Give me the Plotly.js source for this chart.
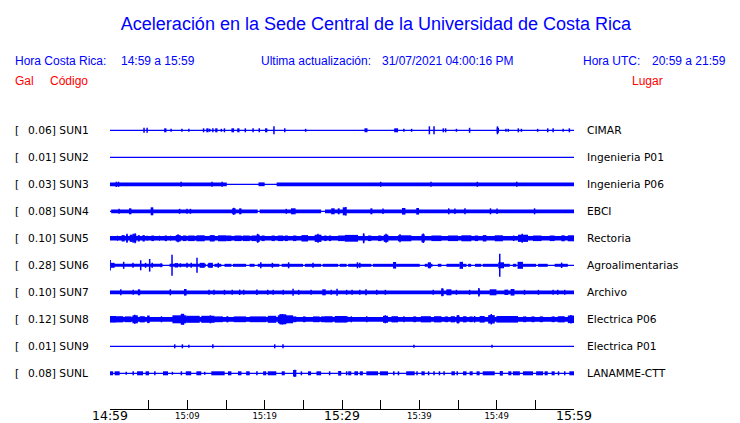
<!DOCTYPE html>
<html><head><meta charset="utf-8">
<script src="https://cdn.plot.ly/plotly-3.0.1.min.js"></script>
<style>html,body{margin:0;padding:0;background:#fff}</style>
</head><body><div id="chart" style="width:740px;height:423px"></div>
<script>
// ---- DATA ----
const codes = ['SUN1','SUN2','SUN3','SUN4','SUN5','SUN6','SUN7','SUN8','SUN9','SUNL'];
const places = ['CIMAR','Ingenieria P01','Ingenieria P06','EBCI','Rectoria','Agroalimentarias','Archivo','Electrica P06','Electrica P01','LANAMME-CTT'];
const maxGal = ['0.06','0.01','0.03','0.08','0.10','0.28','0.10','0.12','0.01','0.08'];

// time axis: minutes after 14:59 (hora Costa Rica)
const tickMinutes = [0,5,10,15,20,25,30,35,40,45,50,55,60];
const tickMajorText = ['14:59','','','','','','15:29','','','','','','15:59'];
const tickMinorMinutes = [10,20,40,50];
const tickMinorText = ['15:09','15:19','15:39','15:49'];

// envelope blocks per station: [start min, end min, half amplitude]
const blocksSUN1 = [[7.0,7.3,2],[12.45,12.75,2],[13.6,13.9,2],[15.7,16.05,2],[16.45,16.75,2],[20.05,20.35,2],[36.75,37.25,2],[50.0,50.3,2.5]];
const blocksSUN2 = [];
const blocksSUN3 = [[0,15.1,1.9],[19.2,20.0,1.9],[21.55,60,1.9]];
const blocksSUN4 = [[0.15,19.1,1.85],[19.35,27.3,1.85],[27.8,60,1.85],[2.46,2.77,3],[5.26,5.6,4],[15.8,16.25,3],[16.7,17.0,3],[23.4,24.0,3],[28.6,29.05,3],[29.45,29.7,3],[30.1,30.55,4],[33.67,33.93,3],[37.76,38.2,3.3],[39.6,39.96,3.3]];
const blocksSUN5 = [[0,60,2.2],[0.9,1.0,2.8],[1.5,1.9,3.2],[2.1,2.3,3.6],[2.55,2.95,3.6],[3.1,3.4,4],[3.6,3.85,3.2],[4.2,4.5,3.2],[4.75,4.85,2.8],[5.35,5.7,2.8],[6.35,6.45,2.8],[7.07,7.37,2.8],[7.8,7.9,2.8],[8.5,9.14,3.2],[9.44,9.88,2.8],[10.1,10.95,2.8],[11.17,12.25,3],[12.9,13.54,3.2],[13.97,15.05,3],[15.05,15.7,2.8],[16.1,17.0,2.8],[17.2,18.07,2.8],[18.3,18.9,2.8],[18.93,19.36,3.6],[19.6,20.0,2.8],[20.9,21.3,2.8],[21.7,22.4,2.8],[22.6,23.0,2.8],[23.67,24.1,2.8],[24.75,25.6,3.2],[26.47,27.34,3.6],[27.7,28.0,2.8],[28.3,28.6,2.8],[29.5,30.35,2.8],[30.35,32.07,3.4],[32.7,32.9,4],[33.36,33.8,2.8],[34.66,35.1,2.8],[35.4,36.0,3.6],[37.24,38.97,3],[40.27,40.7,3.9],[41.56,42.86,2.8],[43.7,45.0,2.8],[45.44,46.73,3],[47.16,47.6,2.8],[48.2,48.67,3.2],[49.75,50.8,3],[52.1,52.3,2.8],[52.76,54.05,3.6],[54.7,55.8,2.8],[56.86,57.5,2.8],[58.37,58.8,3],[59.2,60,3]];
const blocksSUN6 = [[0.1,6.8,1.5],[7.7,12.4,1.5],[12.6,13.3,1.5],[13.5,14.4,1.5],[14.8,15.7,1.5],[15.9,17.6,1.5],[18.05,18.7,1.5],[19.1,21.9,1.5],[22.2,24.96,1.5],[25.2,27.3,1.5],[27.5,29.5,1.5],[29.7,30.6,1.5],[30.8,33.8,1.5],[34.0,36.6,1.5],[37.0,40.05,1.5],[40.7,41.1,1.5],[41.5,41.7,1.5],[42.4,42.85,1.5],[43.5,45.2,1.5],[45.65,46.1,1.5],[46.3,46.7,1.5],[47.2,48.0,1.5],[48.2,50.2,1.5],[50.95,51.7,1.5],[52.1,52.55,1.5],[53.4,55.1,1.5],[55.35,56.6,1.5],[57.5,59.2,1.5],[0.1,0.6,2.5],[4.5,4.7,2.5],[5.35,5.56,2.5],[8.37,8.8,2.2],[11.6,12.25,2.5],[12.7,13.3,2.5],[36.6,37.0,3.3],[41.1,41.5,3],[45.2,45.65,3.5],[50.2,50.95,3],[52.7,53.4,3.5]];
const blocksSUN7 = [[0,60,1.85],[3.6,3.9,3],[7.7,7.9,3],[9.57,9.9,3.3],[18.9,19.1,2.7],[27.45,27.9,3],[33.0,33.2,3],[42.85,43.15,3.7],[43.5,44.15,3],[47.6,47.85,3],[49.1,49.97,3],[51.0,51.5,2.7],[51.8,52.3,3.3]];
const blocksSUN8 = [[0,60,2.4],[0,0.83,3.3],[0.83,1.7,3.1],[1.9,2.77,2.9],[2.9,3.6,4],[3.84,4.5,3.1],[4.8,5.13,3.8],[8.07,9.88,4],[9.15,9.57,5.2],[9.88,11.6,3.5],[11.8,13.54,3.5],[13.54,14.6,2.9],[15.05,15.3,3.1],[16.0,17.6,2.9],[18.07,20.2,2.9],[20.4,21.5,3.5],[21.7,23.67,4],[21.95,22.8,5],[23.67,24.1,2.9],[24.95,25.3,2.9],[26.25,27.1,2.9],[27.3,27.8,2.9],[27.76,28.8,3.1],[29.05,30.6,3.3],[30.35,30.8,2.9],[35.3,35.95,3.5],[36.4,37.24,3.1],[39.2,39.6,2.9],[40.2,41.5,3.1],[41.9,42.86,3.1],[43.3,43.7,2.9],[44.06,44.6,3.1],[44.8,45.2,3.8],[45.65,46.1,3.1],[46.5,46.9,2.9],[47.8,48.45,3.3],[48.9,49.75,4.2],[49.97,52.76,3.3],[53.4,53.85,2.9],[54.5,54.9,2.9],[55.57,56.0,2.9],[57.1,57.5,2.9],[57.9,58.8,3.1],[59.2,60,3.8]];
const blocksSUN9 = [];
const blocksSUNL = [[0,0.4,2],[0.6,1.25,2],[3.5,4.27,2],[4.6,5.05,2],[6.85,7.5,2],[9.8,10.5,2],[11.17,11.8,2],[13.1,14.83,2],[15.26,15.7,2],[16.55,17.0,2],[17.6,18.07,2],[18.9,19.1,2],[19.8,20.2,2],[20.4,21.5,2],[22.2,22.6,2],[23.67,24.1,3.3],[25.6,26.0,2],[26.7,27.3,2],[29.5,29.9,2.3],[30.8,31.2,2],[31.6,32.07,2],[32.3,32.7,2],[33.15,34.66,2],[34.9,35.95,2],[36.6,36.8,2],[38.3,39.4,2],[40.27,40.7,2],[44.15,44.6,2],[45.65,46.1,2],[46.5,46.9,2],[47.4,47.8,2],[48.2,49.75,2],[50.4,50.8,2.3],[51.5,51.9,2],[52.1,53.0,2],[53.4,54.7,2],[55.1,56.0,2],[56.2,56.6,2],[57.1,57.5,2],[59.4,60,2]];

// narrow spikes per station: [minute, half amplitude]
const spikesSUN1 = [[4.4,2.5],[4.8,2.5],[7.9,1.5],[9.3,1.5],[10.2,1.5],[12.1,2],[12.9,1.5],[13.3,2],[14.4,1.5],[14.8,2],[17.5,2],[18.5,2],[19.3,2],[21.2,4],[22.6,2],[25.3,1.5],[33.0,2],[33.2,2],[38.0,1.5],[39.0,1.5],[41.3,4],[41.9,4],[43.1,2],[43.4,2],[44.8,1.5],[46.5,2.5],[50.1,4],[51.2,1.5],[51.5,1.5],[52.8,2],[53.2,1.5],[55.3,1.5],[56.6,2],[57.3,2],[58.6,1.5],[59.4,2]];
const spikesSUN2 = [];
const spikesSUN3 = [[0.8,2.6],[1.1,2.6],[9.2,2.5],[13.2,2.5],[14.5,2.5],[35.0,2.5],[41.5,2.5],[47.5,2.5],[52.6,2.5]];
const spikesSUN4 = [[1.17,2.5],[9.0,2.5],[9.96,2.5],[10.4,2.5],[16.0,3.5],[22.8,2.5],[30.5,4.3],[35.3,2.7],[43.8,3],[44.6,2.7],[45.9,3],[49.2,3],[50.05,2.7],[54.9,3]];
const spikesSUN5 = [[2.2,4.5],[3.0,4.5],[3.25,5],[8.8,4],[19.1,4.5],[26.9,4.5],[32.8,5],[35.7,4.5],[37.5,4],[40.5,4.8],[53.3,4.5]];
const spikesSUN6 = [[0.02,5.3],[1.77,3.5],[2.97,2.5],[3.97,5],[5.13,6.3],[6.6,2],[8.02,10.5],[9.1,2],[9.96,2.5],[10.5,2.5],[11.25,7.5],[14.0,2.5],[19.5,3],[21.0,2.5],[23.1,3],[26.25,2.5],[32.0,3],[32.3,2.5],[50.4,11.5],[58.4,2.7]];
const spikesSUN7 = [[1.4,3],[3.0,2.5],[12.8,2.5],[13.45,2.5],[14.8,2.5],[15.8,2.5],[16.77,2.7],[17.3,2.5],[20.4,2.5],[21.1,2.5],[22.4,2.5],[23.67,3.5],[24.4,2.5],[26.0,2.5],[28.6,2.5],[29.36,3.5],[30.6,2.5],[31.3,2.5],[32.3,2.5],[34.5,2.5],[35.6,2.5],[41.8,2.5],[42.95,4],[44.8,2.5],[46.5,2.5],[47.7,4.3],[53.6,2.5],[55.4,2.5],[57.3,2.5],[57.9,2.5],[58.8,2.5]];
const spikesSUN8 = [[3.2,4.5],[6.65,3],[9.3,5.5],[9.5,5.5],[13.0,4],[22.0,5],[22.3,5.3],[31.2,3],[33.2,3],[35.6,4],[38.0,3],[45.0,4.2],[47.15,3.3],[49.3,5.2],[59.6,4.3]];
const spikesSUN9 = [[8.37,2],[9.36,2],[10.2,1.5],[13.3,2],[21.3,2],[22.37,2],[39.3,1.5],[49.4,1.5]];
const spikesSUNL = [[2.1,1.5],[3.0,2],[5.8,2],[8.07,1.5],[9.23,2],[12.25,1.5],[23.9,3.5],[24.75,2],[28.4,2],[30.6,2],[37.3,2],[39.7,2],[41.2,2],[41.9,2],[42.6,2],[43.2,2],[44.9,2],[58.0,2],[58.8,2]];

// ---- DRAWING ----
const blockSets = [blocksSUN1,blocksSUN2,blocksSUN3,blocksSUN4,blocksSUN5,blocksSUN6,blocksSUN7,blocksSUN8,blocksSUN9,blocksSUNL];
const spikeSets = [spikesSUN1,spikesSUN2,spikesSUN3,spikesSUN4,spikesSUN5,spikesSUN6,spikesSUN7,spikesSUN8,spikesSUN9,spikesSUNL];

const BLUE = '#0000ff';
const TOP_ROW = 278.7, ROW_STEP = 27;
const PLOT_L = 110, PLOT_W = 464, PLOT_B = 409, PLOT_H = 294;

const traces = [];
codes.forEach((code, i) => {
  const c = TOP_ROW - ROW_STEP * i;
  const bl = blockSets[i];
  if (bl.length) {
    traces.push({
      type: 'bar', x: bl.map(b => (b[0] + b[1]) / 2), width: bl.map(b => b[1] - b[0]),
      base: bl.map(b => c - b[2]), y: bl.map(b => 2 * b[2]),
      marker: {color: BLUE, line: {width: 0}}, hoverinfo: 'skip'
    });
  }
  traces.push({type: 'scatter', mode: 'lines', x: [0, 60], y: [c, c],
    line: {color: BLUE, width: 1.3}, hoverinfo: 'skip'});
  const sp = spikeSets[i];
  if (sp.length) {
    const xs = [], ys = [];
    sp.forEach(s => { xs.push(s[0], s[0], null); ys.push(c - s[1], c + s[1], null); });
    traces.push({type: 'scatter', mode: 'lines', x: xs, y: ys,
      line: {color: BLUE, width: 1.5}, hoverinfo: 'skip'});
  }
});
traces.push({type: 'scatter', mode: 'markers', x: [0], y: [0], xaxis: 'x2',
  marker: {opacity: 0, size: 1}, hoverinfo: 'skip'});

const HEAD_FONT = 'Liberation Sans, Arial, Helvetica, sans-serif';
const LBL_FONT = 'DejaVu Sans, Verdana, sans-serif';
function pAnn(text, px, py, color, size, family) {
  return {text: text, xref: 'paper', yref: 'paper', x: (px - 2 - PLOT_L) / PLOT_W, y: (PLOT_B - py) / PLOT_H,
    xanchor: 'left', yanchor: 'middle', showarrow: false, font: {family: family, size: size, color: color}};
}
const annotations = [
  pAnn('Hora Costa Rica:', 15, 61, BLUE, 12, HEAD_FONT),
  pAnn('14:59 a 15:59', 120.5, 61, BLUE, 12, HEAD_FONT),
  pAnn('Ultima actualización:', 261, 61, BLUE, 12, HEAD_FONT),
  pAnn('31/07/2021 04:00:16 PM', 382, 61, BLUE, 12, HEAD_FONT),
  pAnn('Hora UTC:', 583, 61, BLUE, 12, HEAD_FONT),
  pAnn('20:59 a 21:59', 652, 61, BLUE, 12, HEAD_FONT),
  pAnn('Gal', 15, 81, '#ff0000', 12, HEAD_FONT),
  pAnn('Código', 50, 81, '#ff0000', 12, HEAD_FONT),
  pAnn('Lugar', 632, 81, '#ff0000', 12, HEAD_FONT)
];
codes.forEach((code, i) => {
  const py = PLOT_B - (TOP_ROW - ROW_STEP * i);
  annotations.push(pAnn('[', 15, py, '#000', 10.7, LBL_FONT));
  annotations.push(pAnn(maxGal[i] + '] ' + code, 27.5, py, '#000', 10.7, LBL_FONT));
  annotations.push(pAnn(places[i], 587, py, '#000', 10.7, LBL_FONT));
});

const layout = {
  width: 740, height: 423, margin: {l: PLOT_L, r: 740 - PLOT_L - PLOT_W, t: PLOT_B - PLOT_H, b: 423 - PLOT_B},
  paper_bgcolor: '#fff', plot_bgcolor: '#fff', showlegend: false, barmode: 'overlay',
  title: {text: 'Aceleración en la Sede Central de la Universidad de Costa Rica',
    font: {family: HEAD_FONT, size: 18, color: BLUE},
    xref: 'container', yref: 'container', x: 376 / 740, xanchor: 'center', y: 1 - 23.5 / 423, yanchor: 'middle'},
  xaxis: {range: [0, 60], tickmode: 'array', tickvals: tickMinutes, ticktext: tickMajorText,
    ticks: 'inside', ticklen: 9, tickwidth: 1, tickcolor: '#000', showline: true, linecolor: '#000', linewidth: 1,
    showgrid: false, zeroline: false, fixedrange: true, ticklabelstandoff: -5,
    tickfont: {family: LBL_FONT, size: 12.5, color: '#000'}},
  xaxis2: {range: [0, 60], overlaying: 'x', anchor: 'y', side: 'bottom', tickmode: 'array',
    tickvals: tickMinorMinutes, ticktext: tickMinorText, ticks: '', showline: false, showgrid: false,
    zeroline: false, fixedrange: true, tickfont: {family: LBL_FONT, size: 8.5, color: '#000'}},
  yaxis: {range: [0, PLOT_H], visible: false, fixedrange: true},
  annotations: annotations
};
Plotly.newPlot('chart', traces, layout, {displayModeBar: false, staticPlot: true});
</script></body></html>
